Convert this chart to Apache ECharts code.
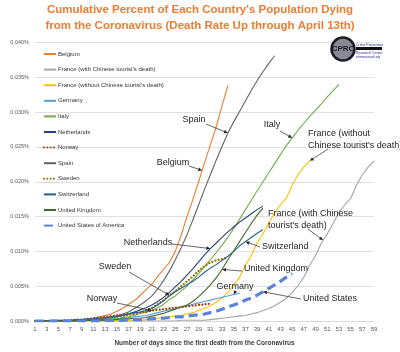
<!DOCTYPE html>
<html lang="en">
<head>
	<meta charset="UTF-8">
	<title>Cumulative death rate</title>
	<script src="https://cdn.jsdelivr.net/npm/echarts@6/dist/echarts.min.js"></script>
	<style>
		html,body{margin:0;padding:0;width:400px;height:352px;background:#fff;}
		#chart{width:400px;height:352px;}
	</style>
</head>
<body>
	<div id="chart"></div>
</body>
<script>
	// days since first death (x axis categories)
	var days = [];
	for (var d = 1; d <= 59; d++) { days.push(String(d)); }

	// cumulative deaths as % of population, day 1 = first death
	var belgium = [0,0,0,0,0,0,0,0.0001,0.0001,0.0002,0.0004,0.0006,0.0008,0.0010,0.0014,0.0018,0.0024,0.0029,0.0037,0.0045,
		0.0053,0.0064,0.0074,0.0084,0.0100,0.0123,0.0150,0.0174,0.0200,0.0227,0.0253,0.0279,0.0309,0.0338];
	var franceWith = [0,0,0,0,0,0,0,0,0,0,0,0,0,0,0,0,0,0,0,0,0,0,0,0,0,
		0.0001,0.0001,0.0001,0.0001,0.0001,0.0002,0.0003,0.0004,0.0005,0.0006,0.0007,0.0008,0.0010,0.0012,0.0015,
		0.0018,0.0022,0.0027,0.0033,0.0041,0.0051,0.0063,0.0080,0.0094,0.0112,0.0125,0.0140,0.0156,0.0167,0.0176,
		0.0195,0.0210,0.0221,0.0230];
	var franceWithout = [0,0,0,0,0,0,0,0,0,0,0,0,0,0,0.0001,0.0001,0.0001,0.0001,0.0001,0.0002,
		0.0003,0.0004,0.0005,0.0006,0.0007,0.0008,0.0010,0.0012,0.0015,0.0018,0.0022,0.0027,0.0033,0.0041,0.0051,
		0.0063,0.0080,0.0094,0.0112,0.0125,0.0140,0.0156,0.0167,0.0176,0.0195,0.0210,0.0221,0.0230];
	var germany = [0,0,0,0,0,0,0,0,0,0.0001,0.0001,0.0001,0.0002,0.0002,0.0003,0.0004,0.0005,0.0006,0.0007,0.0008,
		0.0010,0.0012,0.0014,0.0016,0.0018,0.0020,0.0022,0.0024,0.0026,0.0028,0.0030,0.0032,0.0034,0.0036,0.0038,0.0040];
	var italy = [0,0,0,0,0,0,0,0,0,0.0001,0.0001,0.0001,0.0002,0.0003,0.0003,0.0005,0.0006,0.0008,0.0011,0.0013,
		0.0015,0.0019,0.0024,0.0031,0.0036,0.0043,0.0050,0.0059,0.0068,0.0078,0.0088,0.0098,0.0109,0.0120,0.0133,
		0.0146,0.0160,0.0173,0.0187,0.0200,0.0213,0.0226,0.0239,0.0252,0.0263,0.0274,0.0284,0.0294,0.0303,0.0312,
		0.0322,0.0331,0.0340];
	var netherlands = [0,0,0,0,0,0,0,0.0001,0.0001,0.0001,0.0002,0.0003,0.0004,0.0005,0.0006,0.0008,0.0010,0.0013,0.0016,0.0019,
		0.0023,0.0028,0.0034,0.0041,0.0049,0.0057,0.0066,0.0075,0.0085,0.0095,0.0104,0.0112,0.0120,0.0128,0.0135,
		0.0142,0.0148,0.0154,0.0160,0.0165];
	var norway = [0,0,0,0,0,0.0001,0.0001,0.0002,0.0002,0.0003,0.0004,0.0005,0.0006,0.0007,0.0008,0.0009,0.0010,0.0011,0.0012,0.0013,
		0.0015,0.0016,0.0017,0.0018,0.0019,0.0020,0.0021,0.0022,0.0023,0.0024,0.0025];
	var spain = [0,0,0,0,0,0,0,0,0,0.0001,0.0001,0.0002,0.0003,0.0005,0.0007,0.0010,0.0013,0.0018,0.0023,0.0029,
		0.0036,0.0046,0.0058,0.0072,0.0088,0.0105,0.0124,0.0145,0.0167,0.0189,0.0210,0.0231,0.0251,0.0270,0.0286,
		0.0301,0.0316,0.0331,0.0345,0.0358,0.0370,0.0381];
	var sweden = [0,0,0,0,0,0,0,0,0.0001,0.0002,0.0002,0.0003,0.0004,0.0005,0.0006,0.0007,0.0009,0.0010,0.0012,0.0015,
		0.0019,0.0024,0.0030,0.0037,0.0043,0.0050,0.0057,0.0064,0.0072,0.0079,0.0084,0.0087,0.0089,0.0091];
	var switzerland = [0,0,0,0.0001,0.0001,0.0001,0.0001,0.0002,0.0002,0.0003,0.0003,0.0004,0.0005,0.0006,0.0007,0.0008,0.0010,0.0012,0.0013,0.0015,
		0.0018,0.0023,0.0029,0.0036,0.0042,0.0047,0.0052,0.0057,0.0063,0.0070,0.0076,0.0081,0.0087,0.0093,0.0100,
		0.0108,0.0114,0.0120,0.0126,0.0131];
	var unitedKingdom = [0,0,0,0,0,0,0,0,0,0.0001,0.0001,0.0001,0.0001,0.0002,0.0002,0.0003,0.0003,0.0004,0.0004,0.0005,
		0.0007,0.0009,0.0011,0.0014,0.0017,0.0020,0.0023,0.0028,0.0035,0.0043,0.0052,0.0062,0.0074,0.0088,0.0101,
		0.0114,0.0127,0.0140,0.0152,0.0162];
	var unitedStates = [0,0,0,0,0,0,0,0,0,0,0,0,0.0001,0.0001,0.0001,0.0001,0.0002,0.0002,0.0002,0.0003,
		0.0003,0.0004,0.0004,0.0005,0.0006,0.0006,0.0007,0.0008,0.0009,0.0010,0.0012,0.0014,0.0017,0.0020,0.0023,
		0.0026,0.0030,0.0033,0.0037,0.0042,0.0047,0.0052,0.0057,0.0063,0.0068];

	var countryNames = ['Belgium', "France (with Chinese tourist's death)", "France (without Chinese tourist's death)",
		'Germany', 'Italy', 'Netherlands', 'Norway', 'Spain', 'Sweden', 'Switzerland', 'United Kingdom', 'United States of America'];
	var countryValues = [belgium, franceWith, franceWithout, germany, italy, netherlands, norway, spain, sweden, switzerland, unitedKingdom, unitedStates];
	var countryColors = ['#ED7D31', '#A5A5A5', '#FFC000', '#5B9BD5', '#70AD47', '#264478', '#9E480E', '#636363', '#997300', '#255E91', '#43682B', '#5B83D6'];

	var yTicks = [0, 0.005, 0.01, 0.015, 0.02, 0.025, 0.03, 0.035, 0.04];

	var FONT = "'Liberation Sans', Arial, sans-serif";

	document.addEventListener('DOMContentLoaded', function(){
		chart();
	});

	function lineStyleFor(i){
		var name = countryNames[i];
		if (name == 'Norway' || name == 'Sweden') {
			return {color: countryColors[i], width: 2.2, type: [0.1, 3.2], cap: 'round'};
		}
		if (name == 'United States of America') {
			return {color: countryColors[i], width: 3.2, type: [9, 5]};
		}
		return {color: countryColors[i], width: 1.1};
	}

	function chart(){
		var myChart = echarts.init(document.getElementById('chart'), null, {renderer: 'canvas'});

		var seriesArr = [];
		for (var i = 0; i < countryNames.length; i++) {
			seriesArr.push({
				name: countryNames[i],
				type: 'line',
				data: countryValues[i],
				symbol: 'none',
				showSymbol: false,
				itemStyle: {color: countryColors[i]},
				lineStyle: lineStyleFor(i),
				z: i == countryNames.length - 1 ? 5 : 2
			});
		}

		var options = {
			animation: false,
			textStyle: {fontFamily: FONT},
			title: {
				text: "Cumulative Percent of Each Country's Population Dying\nfrom the Coronavirus (Death Rate Up through April 13th)",
				left: 'center',
				top: 1.5,
				padding: 0,
				textStyle: {color: '#ED7D31', fontSize: 11.5, fontWeight: 'bold', lineHeight: 16, fontFamily: FONT}
			},
			legend: {
				data: countryNames,
				orient: 'vertical',
				left: 38,
				top: 45,
				itemWidth: 12,
				itemHeight: 8,
				itemGap: 7.6,
				itemStyle: {opacity: 0},
				textStyle: {fontSize: 6, color: '#333333', lineHeight: 8, padding: [0, 0, 0, -3]}
			},
			grid: {left: 35, right: 26, top: 42.5, bottom: 25.5, containLabel: false},
			xAxis: {
				type: 'category',
				data: days,
				boundaryGap: false,
				axisTick: {show: false},
				axisLine: {lineStyle: {color: '#D9D9D9'}},
				axisLabel: {interval: 1, fontSize: 6, color: '#595959', margin: 5},
				splitLine: {show: false},
				name: 'Number of days since the first death from the Coronavirus',
				nameLocation: 'middle',
				nameGap: 19,
				nameTextStyle: {fontSize: 6.5, color: '#404040', fontWeight: 'bold'}
			},
			yAxis: {
				type: 'value',
				min: yTicks[0],
				max: yTicks[yTicks.length - 1],
				interval: 0.005,
				axisLine: {show: false},
				axisTick: {show: false},
				splitLine: {lineStyle: {color: '#D9D9D9', width: 0.8}},
				axisLabel: {fontSize: 5.5, color: '#595959', margin: 6, formatter: function(v){ return v.toFixed(3) + '%'; }}
			},
			series: seriesArr
		};
		myChart.setOption(options);

		addNotes(myChart);
	}

	// pixel point on a country's line at a (possibly fractional) day
	function linePoint(myChart, values, day){
		var i = Math.floor(day), f = day - i;
		var p1 = myChart.convertToPixel({gridIndex: 0}, [i - 1, values[i - 1]]);
		if (f == 0 || i >= values.length) return p1;
		var p2 = myChart.convertToPixel({gridIndex: 0}, [i, values[i]]);
		return [p1[0] + (p2[0] - p1[0]) * f, p1[1] + (p2[1] - p1[1]) * f];
	}

	function arrow(from, to){
		var dx = to[0] - from[0], dy = to[1] - from[1];
		var len = Math.sqrt(dx * dx + dy * dy);
		var ux = dx / len, uy = dy / len;
		var hl = 4, hw = 1.8;
		var bx = to[0] - ux * hl, by = to[1] - uy * hl;
		return [
			{type: 'line', shape: {x1: from[0], y1: from[1], x2: bx, y2: by}, style: {stroke: '#404040', lineWidth: 0.8}, z: 20},
			{type: 'polygon', shape: {points: [to, [bx - uy * hw, by + ux * hw], [bx + uy * hw, by - ux * hw]]}, style: {fill: '#262626'}, z: 20}
		];
	}

	function addNotes(myChart){
		// label text, label anchor, arrow start, line to point at, day on that line
		var notes = [
			{text: 'Spain', x: 194, y: 120, align: 'center', from: [206, 124], values: spain, day: 34},
			{text: 'Belgium', x: 173, y: 163, align: 'center', from: [189, 166], values: belgium, day: 29.6},
			{text: 'Netherlands', x: 148, y: 243, align: 'center', from: [172, 244], values: netherlands, day: 31},
			{text: 'Sweden', x: 115, y: 267, align: 'center', from: [129, 272], values: sweden, day: 24},
			{text: 'Norway', x: 102, y: 299, align: 'center', from: [117, 303], values: norway, day: 21},
			{text: 'Italy', x: 272, y: 125, align: 'center', from: [280, 131], values: italy, day: 45},
			{text: "France (without\nChinese tourist's death)", x: 308, y: 140, align: 'left', from: [328, 149], values: franceWithout, day: 48},
			{text: "France (with Chinese\ntourist's death)", x: 268, y: 220, align: 'left', from: [308, 229], values: franceWith, day: 50.3},
			{text: 'Switzerland', x: 262, y: 247, align: 'left', from: [260, 247], values: switzerland, day: 37},
			{text: 'United Kingdom', x: 244, y: 269, align: 'left', from: [242, 271], values: unitedKingdom, day: 33},
			{text: 'Germany', x: 235, y: 287, align: 'center', from: [235, 292], values: germany, day: 35},
			{text: 'United States', x: 303, y: 299, align: 'left', from: [301, 299], values: unitedStates, day: 40}
		];

		var graphics = [];
		for (var i = 0; i < notes.length; i++) {
			var n = notes[i];
			graphics.push({
				type: 'text', x: n.x, y: n.y, z: 20,
				style: {text: n.text, fill: '#1f1f1f', font: '9px ' + FONT, align: n.align, verticalAlign: 'middle', lineHeight: 12}
			});
			var tip = linePoint(myChart, n.values, n.day);
			graphics = graphics.concat(arrow(n.from, tip));
		}

		// CPRC logo, top right
		graphics.push({type: 'circle', shape: {cx: 343, cy: 49, r: 11.5}, style: {fill: '#8a8a96', stroke: '#1b1b24', lineWidth: 2.5}, z: 20});
		graphics.push({type: 'text', x: 343, y: 49, z: 21, style: {text: 'CPRC', font: 'bold 8px ' + FONT, fill: '#1b1b24', align: 'center', verticalAlign: 'middle'}});
		graphics.push({type: 'text', x: 356, y: 43, z: 21, style: {text: 'Crime Prevention', font: '3.5px ' + FONT, fill: '#1c2a8a'}});
		graphics.push({type: 'rect', shape: {x: 356, y: 47, width: 26, height: 3}, style: {fill: '#111'}, z: 21});
		graphics.push({type: 'text', x: 356, y: 51.5, z: 21, style: {text: 'Research Center', font: '3.5px ' + FONT, fill: '#1c2a8a'}});
		graphics.push({type: 'text', x: 356, y: 55.5, z: 21, style: {text: 'crimeresearch.org', font: '3px ' + FONT, fill: '#1c2a8a'}});

		myChart.setOption({graphic: graphics});
	}
</script>
</html>
